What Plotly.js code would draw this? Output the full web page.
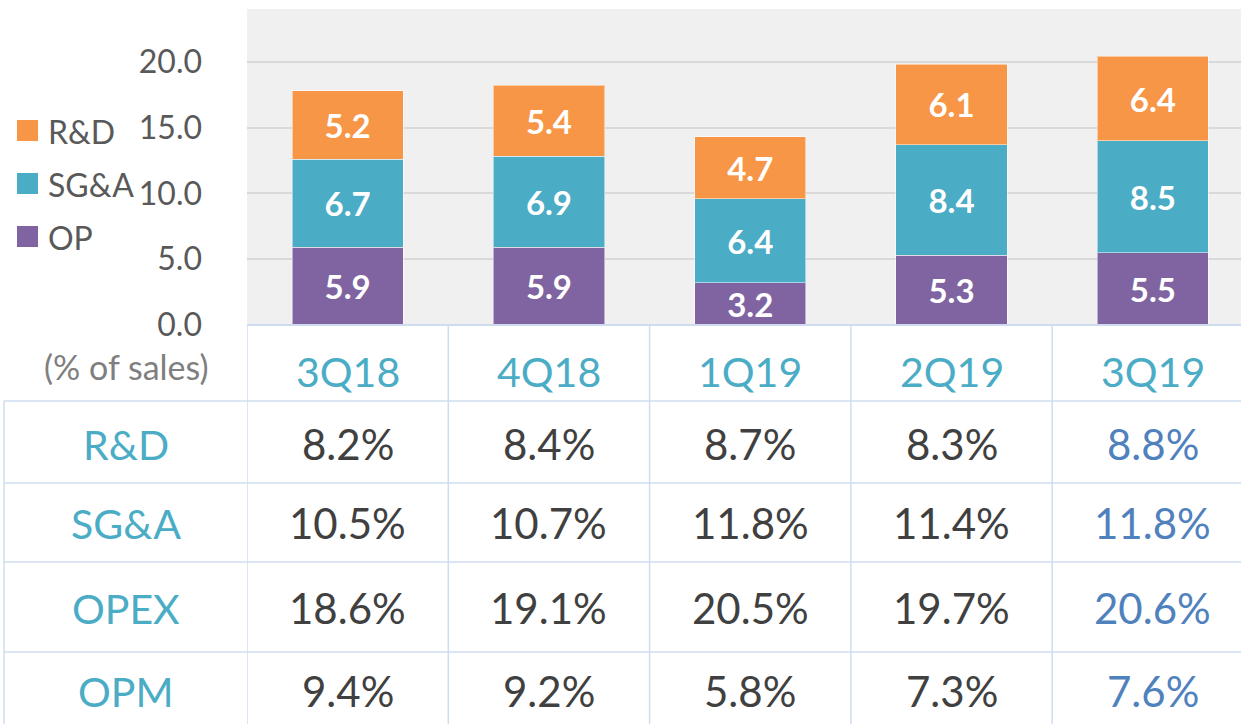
<!DOCTYPE html>
<html>
<head>
<meta charset="utf-8">
<script src="https://cdn.plot.ly/plotly-3.0.1.min.js"></script>
<style>html,body{margin:0;padding:0;background:#fff;}#chart{width:1241px;height:724px;}</style>
</head>
<body>
<div id="chart"></div>
<script>
// ---- data ----
const quarters = ['3Q18', '4Q18', '1Q19', '2Q19', '3Q19'];
const opValues = [5.9, 5.9, 3.2, 5.3, 5.5];
const sgaValues = [6.7, 6.9, 6.4, 8.4, 8.5];
const rdValues = [5.2, 5.4, 4.7, 6.1, 6.4];
const seriesNames = ['OP', 'SG&A', 'R&D'];
const tableRowLabels = ['R&D', 'SG&A', 'OPEX', 'OPM'];
const rdPct = [8.2, 8.4, 8.7, 8.3, 8.8];
const sgaPct = [10.5, 10.7, 11.8, 11.4, 11.8];
const opexPct = [18.6, 19.1, 20.5, 19.7, 20.6];
const opmPct = [9.4, 9.2, 5.8, 7.3, 7.6];
const unitLabel = '(% of sales)';

// ---- style ----
const FONT = 'Lato, "Open Sans", sans-serif';
const colors = {OP: '#8064A2', 'SG&A': '#4BACC6', 'R&D': '#F79646'};
const teal = '#4BACC6', dark = '#404040', blue = '#4F81BD', grid = '#d9d9d9', tline = '#cfdcf0';

const W = 1241, H = 724, L = 247, T = 9, B = 325;
const plotW = W - L, plotH = B - T;
const px = X => (X - L) / plotW;
const py = Y => (B - Y) / plotH;

const seriesVals = [opValues, sgaValues, rdValues];
const traces = seriesNames.map((n, i) => ({
  type: 'bar', name: n, x: quarters.map((q, k) => k), y: seriesVals[i],
  marker: {color: colors[n], line: {color: 'rgba(255,255,255,0.5)', width: 1}},
  width: 0.552,
  texttemplate: '%{y:.1f}', textposition: 'inside', insidetextanchor: 'middle',
  textangle: 0, constraintext: 'none',
  textfont: {family: FONT, size: 33, color: '#ffffff', weight: 'bold'},
  hoverinfo: 'skip', showlegend: false
}));

const shapes = [], annotations = [];
// legend (custom)
const legendItems = [['R&D', 130.5], ['SG&A', 183.5], ['OP', 236.5]];
legendItems.forEach(([n, cy]) => {
  shapes.push({type: 'rect', xref: 'paper', yref: 'paper', x0: px(17), x1: px(38), y0: py(cy - 10.5), y1: py(cy + 10.5),
    fillcolor: colors[n], line: {width: 0}});
  annotations.push({xref: 'paper', yref: 'paper', x: px(46), y: py(cy + 1), xanchor: 'left', yanchor: 'middle',
    text: n, showarrow: false, font: {family: FONT, size: 32, color: '#595959'}});
});

// table lines
const hLines = [401, 483, 562, 652];
hLines.forEach(Y => shapes.push({type: 'line', xref: 'paper', yref: 'paper', x0: px(4), x1: 1, y0: py(Y), y1: py(Y),
  line: {color: tline, width: 1.5}}));
shapes.push({type: 'line', xref: 'paper', yref: 'paper', x0: 0, x1: 1, y0: 0, y1: 0, line: {color: tline, width: 2}});
shapes.push({type: 'line', xref: 'paper', yref: 'paper', x0: px(4), x1: px(4), y0: py(401), y1: py(724), line: {color: tline, width: 1.5}});
for (let k = 0; k < quarters.length; k++) {
  shapes.push({type: 'line', xref: 'x', yref: 'paper', x0: k - 0.5, x1: k - 0.5, y0: 0, y1: py(724), line: {color: tline, width: 1.5}});
}

// header row
annotations.push({xref: 'paper', yref: 'paper', x: px(126), y: py(366), xanchor: 'center', yanchor: 'middle',
  text: unitLabel, showarrow: false, font: {family: FONT, size: 34, color: '#7f7f7f'}});
quarters.forEach((q, k) => annotations.push({xref: 'x', yref: 'paper', x: k, y: py(372), xanchor: 'center', yanchor: 'middle',
  text: q, showarrow: false, font: {family: FONT, size: 41, color: teal}}));

// table body
const tableRows = [rdPct, sgaPct, opexPct, opmPct];
const rowCenters = [444, 523, 608, 691];
tableRows.forEach((vals, r) => {
  annotations.push({xref: 'paper', yref: 'paper', x: px(126), y: py(rowCenters[r]), xanchor: 'center', yanchor: 'middle',
    text: tableRowLabels[r], showarrow: false, font: {family: FONT, size: 41, color: teal}});
  vals.forEach((v, k) => annotations.push({xref: 'x', yref: 'paper', x: k, y: py(rowCenters[r]), xanchor: 'center', yanchor: 'middle',
    text: v.toFixed(1) + '%', showarrow: false,
    font: {family: FONT, size: 42, color: k === vals.length - 1 ? blue : dark}}));
});

const layout = {
  width: W, height: H,
  margin: {l: L, r: 0, t: T, b: H - B, pad: 0},
  paper_bgcolor: '#ffffff', plot_bgcolor: '#f0f0f0',
  barmode: 'stack', showlegend: false,
  font: {family: FONT},
  xaxis: {range: [-0.5, 4.438], showticklabels: false, showgrid: false, zeroline: false, ticks: '', fixedrange: true},
  yaxis: {range: [0, 24], tickvals: [0, 5, 10, 15, 20], tickformat: '.1f', showgrid: true, gridcolor: grid, gridwidth: 2,
    zeroline: false, ticks: '', ticklabelstandoff: 44,
    tickfont: {family: FONT, size: 32, color: '#595959'}, fixedrange: true},
  shapes: shapes, annotations: annotations
};

Plotly.newPlot('chart', traces, layout, {displayModeBar: false, staticPlot: true});
</script>
</body>
</html>
